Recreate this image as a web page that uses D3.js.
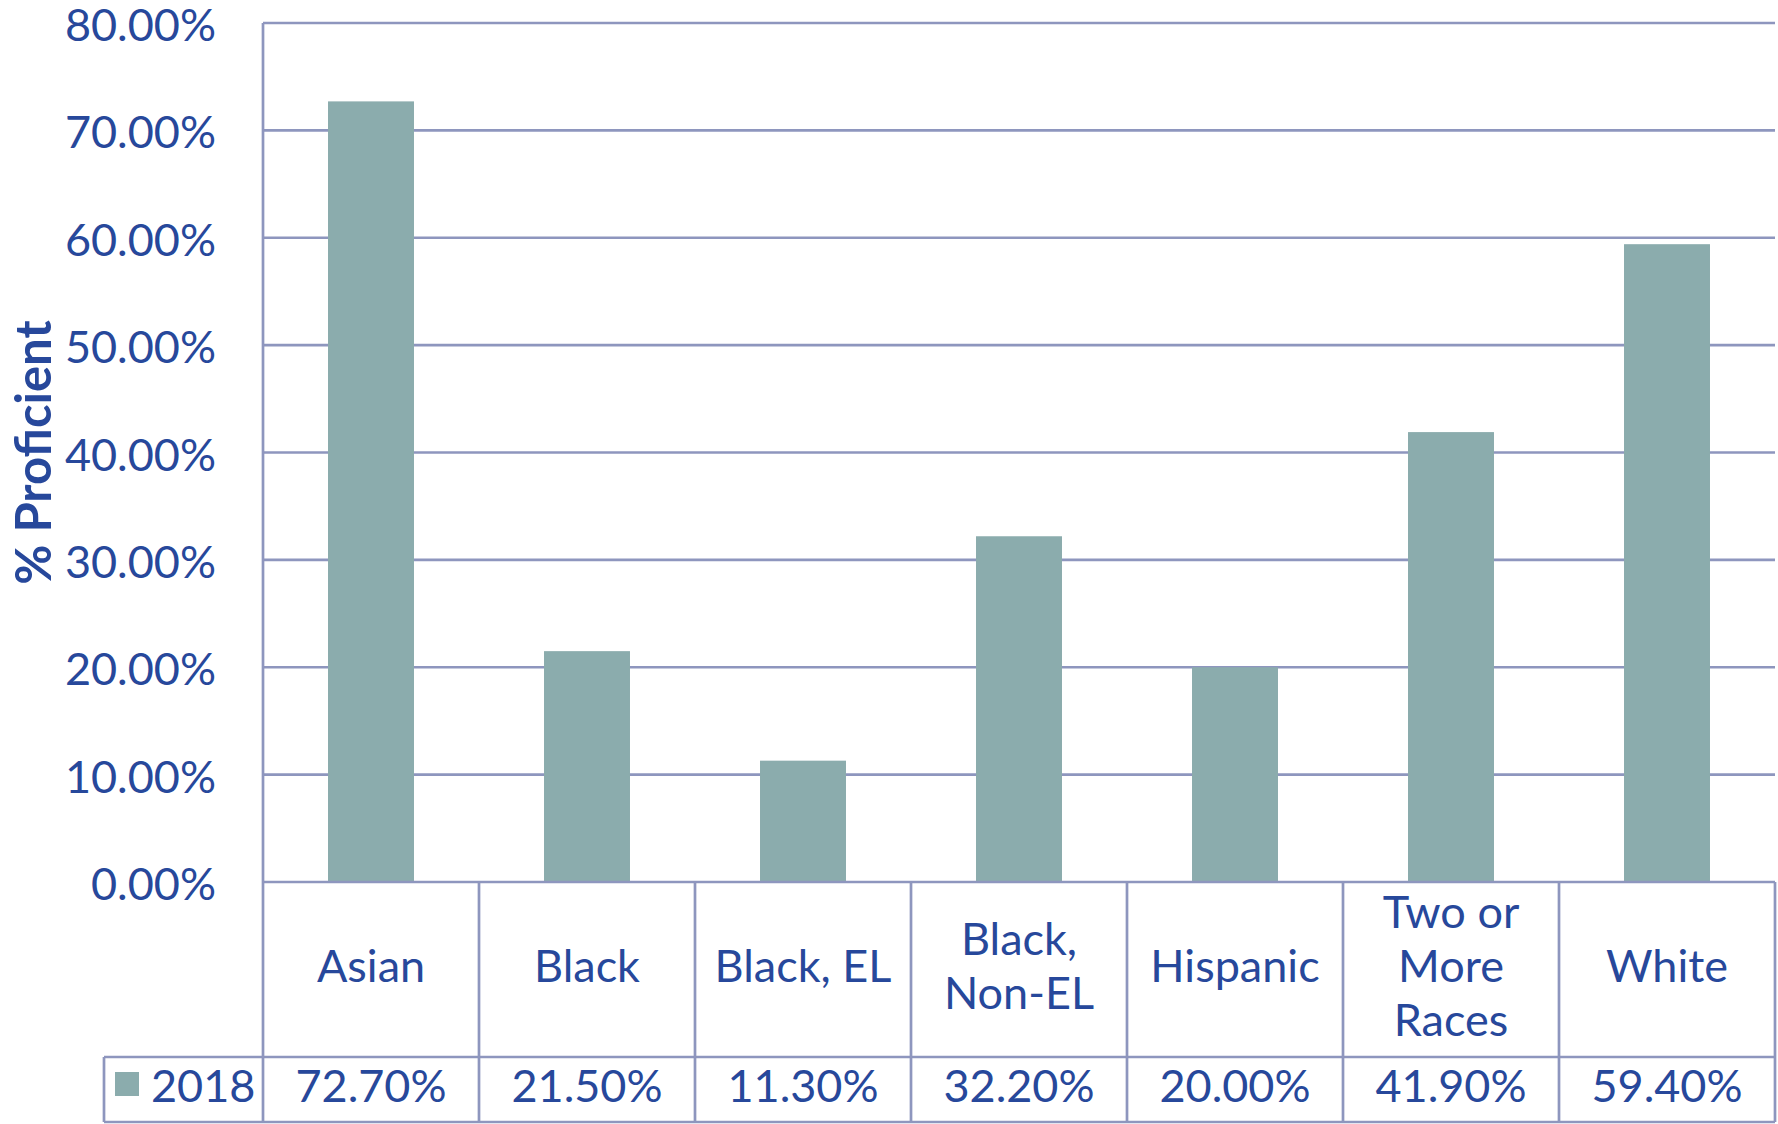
<!DOCTYPE html>
<html>
<head>
<meta charset="utf-8">
<script src="https://cdn.jsdelivr.net/npm/d3@7"></script>
<style>
  html, body { margin: 0; padding: 0; background: #ffffff; }
  svg { display: block; }
  text { font-family: Lato, "Open Sans", sans-serif; fill: #27489B; }
</style>
</head>
<body>
<svg id="chart" width="1778" height="1124"></svg>
<script>
// ---- data ----
const categories = ["Asian", "Black", "Black, EL", "Black, Non-EL", "Hispanic", "Two or More Races", "White"];
const categoryLines = [["Asian"], ["Black"], ["Black, EL"], ["Black,", "Non-EL"], ["Hispanic"], ["Two or", "More", "Races"], ["White"]];
const values2018 = [72.7, 21.5, 11.3, 32.2, 20.0, 41.9, 59.4];
const valueLabels = ["72.70%", "21.50%", "11.30%", "32.20%", "20.00%", "41.90%", "59.40%"];
const yTicks = [0, 10, 20, 30, 40, 50, 60, 70, 80];
const seriesName = "2018";
const yTitle = "% Proficient";

// ---- layout ----
const lineColor = "#8E96BE";
const barColor = "#8BACAD";
const plotLeft = 263, plotRight = 1775, plotTop = 23, plotBottom = 882;
const catRowBottom = 1057, tableBottom = 1122, legendLeft = 104;

const svg = d3.select("#chart");
const x = d3.scaleBand().domain(categories).range([plotLeft, plotRight]).paddingInner(0).paddingOuter(0);
const y = d3.scaleLinear().domain([0, 80]).range([plotBottom, plotTop]);
const barW = x.bandwidth() * 0.398;

// gridlines (behind bars)
svg.append("g").selectAll("line").data(yTicks.filter(d => d > 0)).join("line")
  .attr("x1", plotLeft).attr("x2", plotRight)
  .attr("y1", d => y(d)).attr("y2", d => y(d))
  .attr("stroke", lineColor).attr("stroke-width", 2.7);

// bars
svg.append("g").selectAll("rect").data(values2018).join("rect")
  .attr("x", (d, i) => x(categories[i]) + (x.bandwidth() - barW) / 2)
  .attr("y", d => y(d))
  .attr("width", barW)
  .attr("height", d => y(0) - y(d))
  .attr("fill", barColor);

// zero line and table lines
const g = svg.append("g").attr("stroke", lineColor).attr("stroke-width", 2.7);
g.append("line").attr("x1", plotLeft).attr("x2", plotRight).attr("y1", y(0)).attr("y2", y(0));
g.append("line").attr("x1", legendLeft).attr("x2", plotRight).attr("y1", catRowBottom).attr("y2", catRowBottom);
g.append("line").attr("x1", legendLeft).attr("x2", plotRight).attr("y1", tableBottom).attr("y2", tableBottom);
g.append("line").attr("x1", legendLeft).attr("x2", legendLeft).attr("y1", catRowBottom).attr("y2", tableBottom);
// left axis line
g.append("line").attr("x1", plotLeft).attr("x2", plotLeft).attr("y1", plotTop).attr("y2", tableBottom);
// category dividers
const bounds = categories.slice(1).map(c => x(c)).concat([plotRight]);
g.selectAll(".div").data(bounds).join("line").attr("class", "div")
  .attr("x1", d => d).attr("x2", d => d).attr("y1", y(0)).attr("y2", tableBottom);

// y tick labels
svg.append("g").selectAll("text").data(yTicks).join("text")
  .attr("x", 216).attr("y", d => y(d)).attr("dy", "0.4em")
  .attr("text-anchor", "end").attr("font-size", 45)
  .text(d => d3.format(".2f")(d) + "%");

// y title
svg.append("text")
  .attr("transform", `translate(51, ${(plotTop + plotBottom) / 2}) rotate(-90)`)
  .attr("text-anchor", "middle").attr("font-size", 49).attr("font-weight", "bold")
  .text(yTitle);

// category labels
const catG = svg.append("g");
categoryLines.forEach((lines, i) => {
  const cx = x(categories[i]) + x.bandwidth() / 2;
  const n = lines.length;
  lines.forEach((ln, j) => {
    catG.append("text")
      .attr("x", cx).attr("y", 982 + (j - (n - 1) / 2) * 54)
      .attr("text-anchor", "middle").attr("font-size", 45)
      .text(ln);
  });
});

// values row
svg.append("g").selectAll("text").data(valueLabels).join("text")
  .attr("x", (d, i) => x(categories[i]) + x.bandwidth() / 2)
  .attr("y", 1102).attr("text-anchor", "middle").attr("font-size", 45)
  .text(d => d);

// legend key
svg.append("rect").attr("x", 115).attr("y", 1072).attr("width", 24).attr("height", 24).attr("fill", barColor);
svg.append("text").attr("x", 151).attr("y", 1102).attr("font-size", 45).text(seriesName);
</script>
</body>
</html>
